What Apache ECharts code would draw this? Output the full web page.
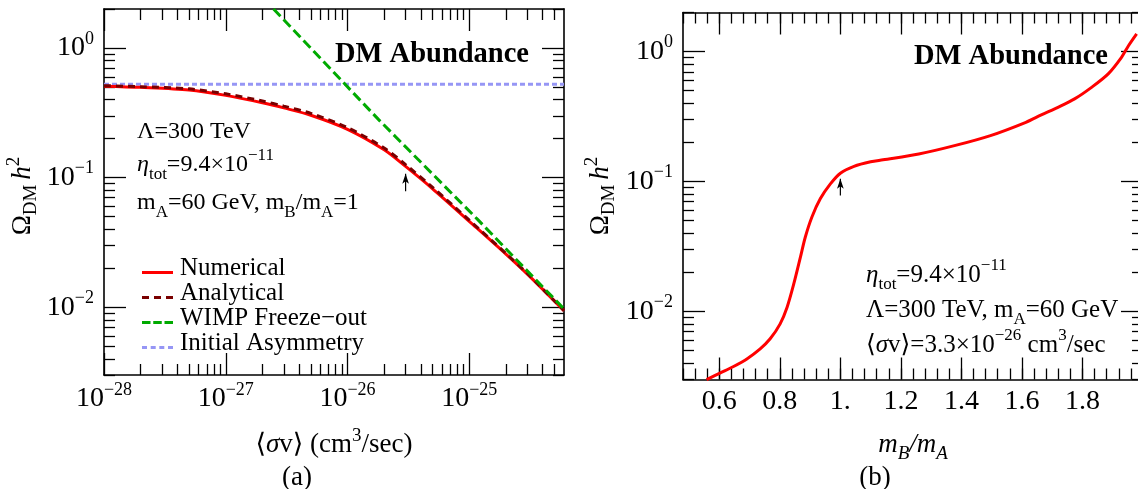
<!DOCTYPE html>
<html>
<head>
<meta charset="utf-8">
<script src="https://cdn.jsdelivr.net/npm/echarts@6/dist/echarts.min.js"></script>
<style>
html, body { margin: 0; padding: 0; background: #fff; }
#chart { width: 1138px; height: 489px; }
</style>
</head>
<body>
<div id="chart"></div>
<script>
const FONT = '"Liberation Serif", "DejaVu Serif", serif';

// panel (a): Omega h^2 vs <sigma v>
const sigmaV = [1e-28, 2e-28, 5e-28, 1e-27, 2e-27, 3e-27, 5e-27, 1e-26, 2e-26, 3e-26, 5e-26, 1e-25, 2e-25, 3e-25, 6e-25];
const omegaNumerical = [0.508, 0.497, 0.474, 0.431, 0.378, 0.345, 0.303, 0.236, 0.164, 0.122, 0.082, 0.046, 0.0257, 0.018, 0.0094];
const omegaAnalytical = [0.512, 0.503, 0.484, 0.443, 0.39, 0.356, 0.313, 0.243, 0.169, 0.126, 0.084, 0.047, 0.026, 0.0182, 0.0094];
const wimpSigmaV = [2.47e-27, 1.81e-26, 1.17e-25, 6e-25];
const omegaWimp = [2.0, 0.279, 0.0476, 0.0097];
const asymSigmaV = [1e-28, 6e-25];
const omegaAsym = [0.526, 0.526];
const arrowAX = 3.0e-26;
const arrowAY = [0.0785, 0.107];

// panel (b): Omega h^2 vs mB/mA
const massRatio = [0.558, 0.602, 0.647, 0.691, 0.735, 0.768, 0.801, 0.824, 0.846, 0.868, 0.884, 0.906, 0.934, 0.967, 1.0,
    1.045, 1.1, 1.141, 1.259, 1.377, 1.496, 1.613, 1.664, 1.719, 1.774, 1.83, 1.885, 1.929, 1.952, 1.979];
const omegaRatio = [0.00299, 0.00336, 0.00378, 0.00432, 0.00516, 0.00617, 0.00804, 0.0108, 0.0163, 0.0262, 0.0373, 0.0534, 0.074, 0.096, 0.116,
    0.131, 0.142, 0.147, 0.163, 0.189, 0.226, 0.286, 0.326, 0.373, 0.433, 0.531, 0.674, 0.904, 1.11, 1.37];
const arrowBX = 1.0;
const arrowBY = [0.078, 0.105];

// ticks
const xExpA = [-28, -27, -26, -25];
const yTickVals = [0.01, 0.1, 1];
const yTickExp = ['−2', '−1', '0'];
const xTickValsB = [0.6, 0.8, 1.0, 1.2, 1.4, 1.6, 1.8];
const xTickLabelsB = ['0.6', '0.8', '1.', '1.2', '1.4', '1.6', '1.8'];

// legend
const legendNames = ['Numerical', 'Analytical', 'WIMP Freeze−out', 'Initial Asymmetry'];
// line samples drawn low in an 33x11 box so the text sits a little above them
const legendIcons = [
    'path://M32.99,0h0.01v0.01z M0,8h31v3h-31z',
    'path://M32.99,0h0.01v0.01z M0,8h7v3h-7z M12,8h7v3h-7z M24,8h7v3h-7z',
    'path://M32.99,0h0.01v0.01z M0,8h8.5v3h-8.5z M11.25,8h8.5v3h-8.5z M22.5,8h8.5v3h-8.5z',
    'path://M32.99,0h0.01v0.01z M0,8h5v3h-5z M8.7,8h5v3h-5z M17.3,8h5v3h-5z M26,8h5v3h-5z'
];

const X_MIN_A = -28, X_MAX_A = Math.log10(6e-25);
const Y_MIN = 0.003, Y_MAX = 2;
const X_MIN_B = 0.48, X_MAX_B = 2.0;

// minor ticks
const xMinorA = [];
for (let n = -28; n <= -25; n++) {
    for (let k = 2; k <= 9; k++) {
        const v = n + Math.log10(k);
        if (v < X_MAX_A) xMinorA.push(v);
    }
}
const yMinor = [];
for (let n = -3; n <= 0; n++) {
    for (let k = 2; k <= 9; k++) {
        const v = k * Math.pow(10, n);
        if (v >= Y_MIN && v <= Y_MAX) yMinor.push(+v.toPrecision(3));
    }
}
const xMinorB = [];
for (let i = 0; i <= 38; i++) xMinorB.push(Math.round((X_MIN_B + 0.04 * i) * 100) / 100);

function makeRich(size, supSize) {
    return {
        n: { fontFamily: FONT, fontSize: size, lineHeight: 36, color: '#000' },
        i: { fontFamily: FONT, fontSize: size, lineHeight: 36, fontStyle: 'italic', color: '#000' },
        sup: { fontFamily: FONT, fontSize: supSize, lineHeight: 16, verticalAlign: 'top', color: '#000' },
        sub: { fontFamily: FONT, fontSize: supSize, lineHeight: 33, verticalAlign: 'bottom', color: '#000' },
        isub: { fontFamily: FONT, fontSize: supSize, lineHeight: 32, verticalAlign: 'bottom', fontStyle: 'italic', color: '#000' },
        b: { fontFamily: FONT, fontSize: 28.5, fontWeight: 'bold', lineHeight: 36, color: '#000' }
    };
}
const rich = makeRich(24, 17);
const richTick = makeRich(28, 18);
const richName = makeRich(27, 19);
const richNote = makeRich(25, 17);

function nearest(arr, v) {
    let best = 0;
    arr.forEach((a, i) => { if (Math.abs(a - v) < Math.abs(arr[best] - v)) best = i; });
    return best;
}

const fmtXA = v => '{n|10}{sup|−' + (-Math.round(v)) + '}';
const fmtY = v => '{n|10}{sup|' + yTickExp[nearest(yTickVals, v)] + '}';
const fmtXB = v => '{n|' + xTickLabelsB[nearest(xTickValsB, v)] + '}';

function frameAxes(dim, grid, base, majors, minors, labelOpt) {
    const sides = dim === 'x' ? ['bottom', 'top'] : ['left', 'right'];
    const out = [];
    sides.forEach((pos, si) => {
        [true, false].forEach(isMajor => {
            out.push(Object.assign({}, base, {
                gridIndex: grid,
                position: pos,
                axisLine: { show: isMajor, onZero: false, lineStyle: { color: '#000', width: 1.6 } },
                axisTick: {
                    show: true, inside: true, length: isMajor ? 22 : 11,
                    customValues: isMajor ? majors : minors,
                    lineStyle: { color: '#000', width: 1.3 }
                },
                splitLine: { show: false },
                axisLabel: (si === 0 && isMajor)
                    ? Object.assign({ show: true, customValues: majors, rich: richTick }, labelOpt)
                    : { show: false }
            }));
        });
    });
    return out;
}

const xAxes = [].concat(
    frameAxes('x', 0, { type: 'value', min: X_MIN_A, max: X_MAX_A }, xExpA, xMinorA, { formatter: fmtXA, margin: 6 }),
    frameAxes('x', 1, { type: 'value', min: X_MIN_B, max: X_MAX_B }, xTickValsB, xMinorB, { formatter: fmtXB, margin: 4 })
);
const yAxes = [].concat(
    frameAxes('y', 0, { type: 'log', min: Y_MIN, max: Y_MAX }, yTickVals, yMinor, { formatter: fmtY, margin: 10 }),
    frameAxes('y', 1, { type: 'log', min: Y_MIN, max: Y_MAX }, yTickVals, yMinor, { formatter: fmtY, margin: 10 })
);

function lineSeries(name, xs, ys, xi, color, type, extra) {
    return Object.assign({
        type: 'line', name: name, xAxisIndex: xi, yAxisIndex: xi,
        data: xs.map((x, i) => [x, ys[i]]),
        showSymbol: false, symbol: 'none',
        lineStyle: { color: color, width: 3, type: type },
        itemStyle: { color: color },
        silent: true
    }, extra || {});
}

function arrowSeries(xi, x, ys) {
    return {
        type: 'line', xAxisIndex: xi, yAxisIndex: xi, silent: true, z: 10,
        data: [{ value: [x, ys[0]], symbol: 'none' }, { value: [x, ys[1]], symbol: 'arrow', symbolSize: [5, 10] }],
        showSymbol: true,
        lineStyle: { color: '#000', width: 1.2 },
        itemStyle: { color: '#000' }
    };
}

const logS = arr => arr.map(v => Math.log10(v));

function txt(x, y, text, r, extra) {
    return Object.assign({
        type: 'text', x: x, y: y, silent: true,
        style: {
            text: text, rich: r || rich, fill: '#000', font: '24px ' + FONT,
            textAlign: 'left', align: 'left', textVerticalAlign: 'middle', verticalAlign: 'middle'
        }
    }, extra || {});
}
function ctxt(x, y, text, r, extra) {
    const t = txt(x, y, text, r, extra);
    t.style.textAlign = t.style.align = 'center';
    return t;
}

const option = {
    animation: false,
    backgroundColor: '#fff',
    grid: [
        { left: 104, top: 9, width: 460, height: 366, outerBoundsMode: 'none' },
        { left: 683, top: 12.5, width: 460, height: 367, outerBoundsMode: 'none' }
    ],
    xAxis: xAxes,
    yAxis: yAxes,
    legend: {
        data: legendNames.map((n, i) => ({ name: n, icon: legendIcons[i] })),
        orient: 'vertical', left: 137, top: 251,
        itemWidth: 33, itemHeight: 11, itemGap: 0,
        selectedMode: false,
        textStyle: { fontFamily: FONT, fontSize: 25, color: '#000', lineHeight: 25 }
    },
    series: [
        lineSeries(legendNames[0], logS(sigmaV), omegaNumerical, 0, '#ff0000', 'solid', { smooth: 0.3, z: 3 }),
        lineSeries(legendNames[1], logS(sigmaV), omegaAnalytical, 0, '#7a0000', [7, 5], { smooth: 0.3, z: 4 }),
        lineSeries(legendNames[2], logS(wimpSigmaV), omegaWimp, 0, '#00aa00', [10, 4.5], { z: 5 }),
        lineSeries(legendNames[3], logS(asymSigmaV), omegaAsym, 0, '#9696f5', [5, 3], { z: 2 }),
        arrowSeries(0, Math.log10(arrowAX), arrowAY),
        lineSeries('ratio', massRatio, omegaRatio, 4, '#ff0000', 'solid', { smooth: 0.3, z: 3 }),
        arrowSeries(4, arrowBX, arrowBY)
    ],
    graphic: [
        txt(335, 55, '{b|DM Abundance}'),
        txt(914, 57, '{b|DM Abundance}'),
        txt(137, 132, '{n|Λ=300 TeV}'),
        txt(137, 165, '{i|η}{sub|tot}{n|=9.4×10}{sup|−11}'),
        txt(137, 203, '{n|m}{sub|A}{n|=60 GeV, m}{sub|B}{n|/m}{sub|A}{n|=1}'),
        txt(866, 275, '{i|η}{sub|tot}{n|=9.4×10}{sup|−11}', richNote),
        txt(866, 310, '{n|Λ=300 TeV, m}{sub|A}{n|=60 GeV}', richNote),
        txt(866, 345, '{n|⟨}{i|σ}{n|v⟩=3.3×10}{sup|−26}{n| cm}{sup|3}{n|/sec}', richNote),
        ctxt(334, 445, '{n|⟨}{i|σ}{n|v⟩ (cm}{sup|3}{n|/sec)}', richName),
        ctxt(913, 445, '{i|m}{isub|B}{i|/m}{isub|A}', richName),
        ctxt(297, 478, '{n|(a)}', richName),
        ctxt(875, 478, '{n|(b)}', richName),
        ctxt(23, 196, '{n|Ω}{sub|DM }{i|h}{sup|2}', richName, { rotation: Math.PI / 2 }),
        ctxt(601, 196, '{n|Ω}{sub|DM }{i|h}{sup|2}', richName, { rotation: Math.PI / 2 })
    ]
};

const chart = echarts.init(document.getElementById('chart'), null, { renderer: 'canvas' });
chart.setOption(option);
</script>
</body>
</html>
